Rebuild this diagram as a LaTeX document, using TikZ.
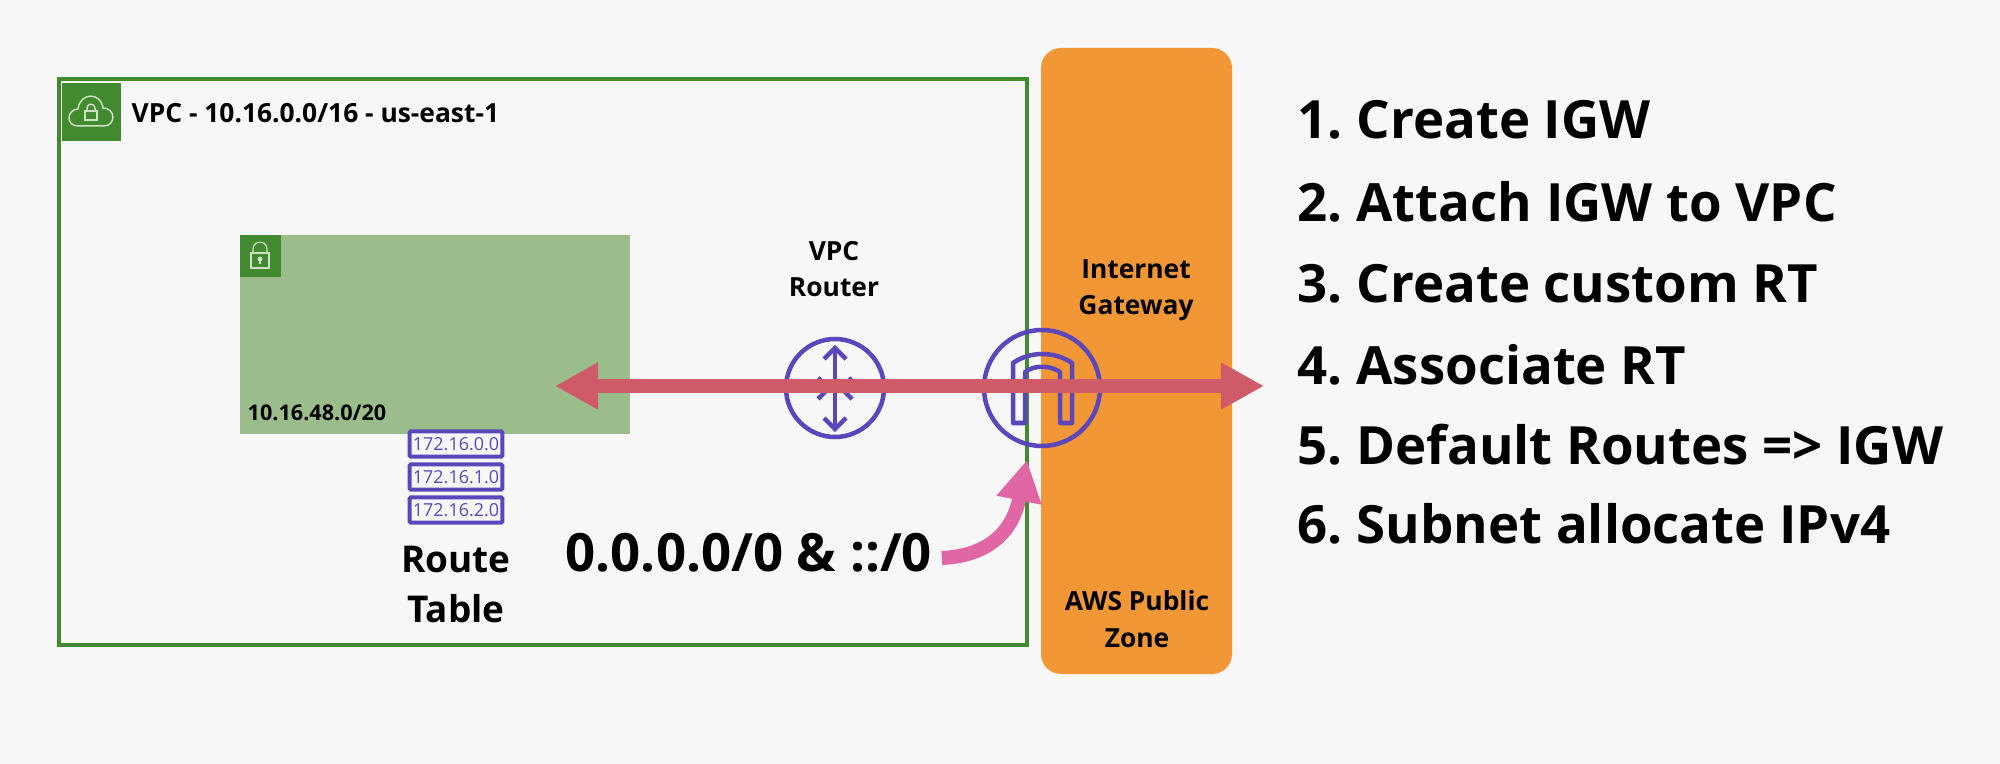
\documentclass[tikz,border=0pt]{standalone}
\usepackage{fontspec}
\setmainfont{Open Sans}
\usetikzlibrary{arrows.meta}
\definecolor{pagegray}{HTML}{F7F7F7}
\definecolor{vpcgreen}{HTML}{418A2F}
\definecolor{subnetgreen}{HTML}{9BBD8B}
\definecolor{zoneorange}{HTML}{F29736}
\definecolor{routepurple}{HTML}{5C46BC}
\definecolor{flowred}{HTML}{CF5A68}
\definecolor{flowpink}{HTML}{E066A6}
\definecolor{iconline}{HTML}{CFE0C6}
\tikzset{
	tag/.style={font=\bfseries\fontsize{7.5pt}{9pt}\selectfont, inner sep=0pt, anchor=base},
	routetag/.style={tag, font=\bfseries\fontsize{10.5pt}{12pt}\selectfont},
	routebox/.style={draw=routepurple, line width=.04cm, fill=pagegray, rounded corners=.01cm,
		minimum width=.925cm, minimum height=.25cm, inner sep=0pt, text=routepurple,
		font=\fontsize{5.1pt}{7pt}\selectfont},
	steptext/.style={font=\bfseries\fontsize{15pt}{18pt}\selectfont\frenchspacing, inner sep=0pt, anchor=base west},
	purpleline/.style={draw=routepurple, line width=.045cm},
}
\begin{document}
\begin{tikzpicture}[x=.01cm, y=-.01cm]
	% Background
	\fill[pagegray] (0,0) rectangle (2000,764);
	% VPC
	\draw[vpcgreen, line width=.045cm] (59,79) rectangle (1027,645);
	\fill[vpcgreen] (62,83) rectangle (121,141);
	\draw[iconline, line width=.015cm] (78,126) .. controls (66,126) and (66,110) .. (78,109)
		.. controls (80,92) and (101,92) .. (103,108) .. controls (116,108) and (116,126) .. (104,126) -- cycle;
	\draw[iconline, line width=.015cm] (85,111) rectangle (97,120);
	\draw[iconline, line width=.015cm] (87,111) -- (87,108) .. controls (87,103) and (95,103) .. (95,108) -- (95,111);
	\node[tag, anchor=base west] (vpclabel) at (131,123) {VPC - 10.16.0.0/16 - us-east-1};
	% Subnet
	\fill[subnetgreen] (240,235) rectangle (630,434);
	\fill[vpcgreen] (240,235) rectangle (281,277);
	\draw[iconline, line width=.012cm] (251,253) rectangle (269,268);
	\draw[iconline, line width=.012cm] (253,253) -- (253,249) .. controls (253,240) and (267,240) .. (267,249) -- (267,253);
	\fill[iconline] (260,259) circle (2.5);
	\draw[iconline, line width=.012cm] (260,259) -- (260,264);
	\node[tag, anchor=base west, font=\bfseries\fontsize{6.15pt}{8pt}\selectfont] (subnetlabel) at (247,421) {10.16.48.0/20};
	% Route table
	\node[routebox] (routea) at (456,444) {172.16.0.0};
	\node[routebox] (routeb) at (456,477) {172.16.1.0};
	\node[routebox] (routec) at (456,510) {172.16.2.0};
	\node[routetag] (routetop) at (456,572) {Route};
	\node[routetag] (routebottom) at (456,622) {Table};
	% Public zone
	\fill[zoneorange, rounded corners=.2cm] (1041,48) rectangle (1232,674);
	\node[tag] (igwtop) at (1136,279) {Internet};
	\node[tag] (igwbottom) at (1136,315) {Gateway};
	\node[tag] (zonetop) at (1137,610) {AWS Public};
	\node[tag] (zonebottom) at (1137,647) {Zone};
	\node[tag] (routertop) at (834,261) {VPC};
	\node[tag] (routerbottom) at (834,297) {Router};
	% VPC router
	\draw[purpleline] (835,388) circle (49);
	\draw[purpleline] (835,348) -- (835,429);
	\draw[purpleline] (824,359) -- (835,348) -- (846,359);
	\draw[purpleline] (824,418) -- (835,429) -- (846,418);
	\draw[purpleline] (818,378) -- (829,388) -- (818,399);
	\draw[purpleline] (852,378) -- (841,388) -- (852,399);
	% Internet gateway
	\draw[purpleline] (1042,388) circle (58);
	\draw[purpleline, line join=round] (1013,423) -- (1013,363) .. controls (1030,351) and (1055,351) .. (1072,363) -- (1072,423) -- (1060,423)
		-- (1060,372) .. controls (1050,365) and (1034,365) .. (1025,372) -- (1025,423) -- cycle;
	% Traffic
	\coordinate (flowleft) at (555,386);
	\coordinate (flowright) at (1264,386);
	\draw[flowred, line width=.13cm, {Triangle[length=.43cm,width=.44cm]}-{Triangle[length=.43cm,width=.44cm]}] (flowleft) -- (flowright);
	% Default routes
	\node[steptext] (defaultroute) at (565,571) {0.0.0.0/0 \& ::/0};
	\coordinate (igwedge) at (1027,460);
	\draw[flowpink, line width=.14cm, -{Triangle[length=.41cm,width=.43cm]}] ([xshift=.09cm,yshift=.13cm]defaultroute.base east) .. controls (985,556) and (1012,535) .. (igwedge);
	% Steps
	\node[steptext] (stepa) at (1297,139) {1. Create IGW};
	\node[steptext] (stepb) at (1297,222) {2. Attach IGW to VPC};
	\node[steptext] (stepc) at (1297,303) {3. Create custom RT};
	\node[steptext] (stepd) at (1297,385) {4. Associate RT};
	\node[steptext] (stepe) at (1297,465) {5. Default Routes => IGW};
	\node[steptext] (stepf) at (1297,544) {6. Subnet allocate IPv4};
\end{tikzpicture}
\end{document}
